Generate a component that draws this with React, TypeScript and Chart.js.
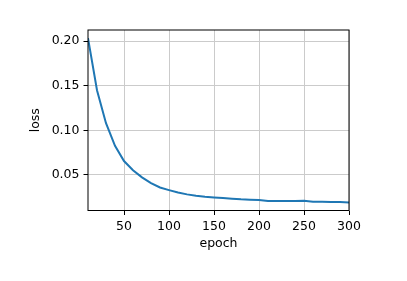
import React, { useEffect, useRef } from "react";
import { Chart, registerables } from "chart.js";

Chart.register(...registerables);

const epochs = [10, 20, 30, 40, 50, 60, 70, 80, 90, 100, 110, 120, 130, 140, 150, 160, 170, 180, 190, 200, 210, 220, 230, 240, 250, 260, 270, 280, 290, 300];
const loss = [0.2034, 0.145, 0.108, 0.0825, 0.0655, 0.0552, 0.0472, 0.0408, 0.0358, 0.0329, 0.0302, 0.0281, 0.0266, 0.0255, 0.0247, 0.024, 0.0232, 0.0225, 0.0221, 0.0217, 0.0207, 0.0207, 0.0206, 0.0207, 0.0209, 0.0198, 0.0198, 0.0196, 0.0194, 0.0191];
const xTicks = [50, 100, 150, 200, 250, 300];
const yTicks = [0.05, 0.1, 0.15, 0.2];

const FONT = "'DejaVu Sans', sans-serif";
const FS = 12.5;

const framePlugin = {
  id: "frame",
  afterDraw(chart: any) {
    const { ctx, chartArea } = chart;
    ctx.save();
    ctx.strokeStyle = "#000";
    ctx.lineWidth = 1;
    ctx.strokeRect(chartArea.left, chartArea.top, chartArea.right - chartArea.left, chartArea.bottom - chartArea.top);
    ctx.restore();
  },
};

export default function App() {
  const ref = useRef<HTMLCanvasElement>(null);
  useEffect(() => {
    document.body.style.margin = "0";
    const chart = new Chart(ref.current!, {
      type: "line",
      data: {
        datasets: [
          {
            data: epochs.map((e, i) => ({ x: e, y: loss[i] })),
            borderColor: "#1f77b4",
            borderWidth: 2,
            pointRadius: 0,
            tension: 0,
            fill: false,
          },
        ],
      },
      options: {
        animation: false,
        responsive: false,
        layout: { padding: { left: 25, top: 30, right: 58, bottom: 30 } },
        plugins: { legend: { display: false }, tooltip: { enabled: false } },
        scales: {
          x: {
            type: "linear",
            min: 10,
            max: 300,
            afterBuildTicks: (s: any) => {
              s.ticks = xTicks.map((v) => ({ value: v }));
            },
            afterFit: (s: any) => {
              s.height = 40.5;
            },
            grid: { color: "#cbcbcb", lineWidth: 1, tickColor: "#000", tickLength: 4.5, drawTicks: true },
            border: { display: false },
            ticks: { color: "#000", font: { family: FONT, size: FS }, padding: 4, maxRotation: 0, autoSkip: false, callback: (v: any) => String(v) },
            title: { display: true, text: "epoch", color: "#000", font: { family: FONT, size: FS }, padding: { top: 0, bottom: 0 } },
          },
          y: {
            type: "linear",
            min: 0.0100,
            max: 0.2125,
            afterBuildTicks: (s: any) => {
              s.ticks = yTicks.map((v) => ({ value: v }));
            },
            afterFit: (s: any) => {
              s.width = 63;
            },
            grid: { color: "#cbcbcb", lineWidth: 1, tickColor: "#000", tickLength: 4.5, drawTicks: true },
            border: { display: false },
            ticks: { color: "#000", font: { family: FONT, size: FS }, padding: 4, autoSkip: false, callback: (v: any) => Number(v).toFixed(2) },
            title: { display: true, text: "loss", color: "#000", font: { family: FONT, size: FS }, padding: { top: 3, bottom: 0 } },
          },
        },
      },
      plugins: [framePlugin],
    });
    return () => chart.destroy();
  }, []);
  return (
    <div style={{ position: "absolute", left: 0, top: 0, width: 407, height: 281, background: "#fff" }}>
      <canvas ref={ref} width={407} height={281} />
    </div>
  );
}
